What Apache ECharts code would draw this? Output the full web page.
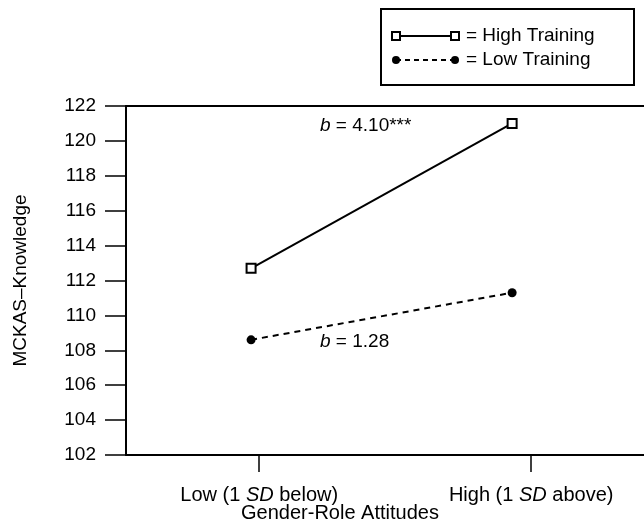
<!DOCTYPE html>
<html>
<head>
<meta charset="utf-8">
<style>
  html, body { margin: 0; padding: 0; background: #fff; }
  #chart { width: 644px; height: 525px; }
</style>
<script src="https://cdn.jsdelivr.net/npm/echarts@6/dist/echarts.min.js"></script>
</head>
<body>
<div id="chart"></div>
<script>
// tick positions on the x axis and their labels (SD part is set in italics)
var xTicks = [0, 1];
var xTickLabels = [['Low (1 ', 'SD', ' below)'], ['High (1 ', 'SD', ' above)']];
// where the points actually sit along x (they are drawn slightly left of the ticks)
var xPoints = [-0.03, 0.93];
var highTraining = [112.7, 121.0];
var lowTraining = [108.6, 111.3];
var yMin = 102, yMax = 122, yStep = 2;

var FONT = '"Liberation Sans", Arial, sans-serif';
var X_MIN = -0.49, X_MAX = 1.415;

function pairs(ys) {
  return ys.map(function (y, i) { return [xPoints[i], y]; });
}

var chart = echarts.init(document.getElementById('chart'));

chart.setOption({
  animation: false,
  backgroundColor: '#fff',
  // plot frame is open on the right, it runs off the picture
  grid: {
    left: 126,
    top: 106,
    right: 0,
    bottom: 70
  },
  xAxis: [
    {
      type: 'value',
      min: X_MIN,
      max: X_MAX,
      splitLine: { show: false },
      axisLine: { onZero: false, lineStyle: { color: '#000', width: 2 } },
      axisTick: {
        customValues: xTicks,
        length: 17,
        lineStyle: { color: '#000', width: 1.5 }
      },
      axisLabel: {
        customValues: xTicks,
        margin: 30,
        formatter: function (v) {
          var parts = xTickLabels[v === 0 ? 0 : 1];
          return '{n|' + parts[0] + '}{i|' + parts[1] + '}{n|' + parts[2] + '}';
        },
        rich: {
          n: { fontFamily: FONT, fontSize: 20, color: '#000' },
          i: { fontFamily: FONT, fontSize: 20, color: '#000', fontStyle: 'italic' }
        }
      }
    },
    {
      // top edge of the frame
      type: 'value',
      position: 'top',
      min: X_MIN,
      max: X_MAX,
      splitLine: { show: false },
      axisLine: { onZero: false, lineStyle: { color: '#000', width: 2 } },
      axisTick: { show: false },
      axisLabel: { show: false }
    }
  ],
  yAxis: {
    type: 'value',
    min: yMin,
    max: yMax,
    interval: yStep,
    name: 'MCKAS\u2013Knowledge',
    nameLocation: 'middle',
    nameGap: 96,
    nameTextStyle: { fontFamily: FONT, fontSize: 19, color: '#000' },
    splitLine: { show: false },
    axisLine: { onZero: false, lineStyle: { color: '#000', width: 2 } },
    axisTick: { length: 21, lineStyle: { color: '#000', width: 1.5 } },
    axisLabel: { fontFamily: FONT, fontSize: 19, color: '#000', margin: 30 }
  },
  series: [
    {
      name: 'High Training',
      type: 'line',
      data: pairs(highTraining),
      symbol: 'rect',
      symbolSize: 9,
      lineStyle: { color: '#000', width: 2 },
      itemStyle: { color: '#fff', borderColor: '#000', borderWidth: 2 }
    },
    {
      name: 'Low Training',
      type: 'line',
      data: pairs(lowTraining),
      symbol: 'circle',
      symbolSize: 9,
      lineStyle: { color: '#000', width: 2, type: [6, 5] },
      itemStyle: { color: '#000', borderColor: '#000', borderWidth: 0 }
    }
  ],
  graphic: [
    // legend box
    {
      type: 'rect',
      shape: { x: 381, y: 9, width: 253, height: 76 },
      style: { fill: '#fff', stroke: '#000', lineWidth: 2 }
    },
    {
      type: 'line',
      shape: { x1: 396, y1: 36, x2: 455, y2: 36 },
      style: { stroke: '#000', lineWidth: 2 }
    },
    {
      type: 'rect',
      shape: { x: 392, y: 32, width: 8, height: 8 },
      style: { fill: '#fff', stroke: '#000', lineWidth: 2 }
    },
    {
      type: 'rect',
      shape: { x: 451, y: 32, width: 8, height: 8 },
      style: { fill: '#fff', stroke: '#000', lineWidth: 2 }
    },
    {
      type: 'text',
      x: 466, y: 36,
      style: { text: '= High Training', font: '19px ' + FONT, fill: '#000', verticalAlign: 'middle' }
    },
    {
      type: 'line',
      shape: { x1: 396, y1: 60, x2: 455, y2: 60 },
      style: { stroke: '#000', lineWidth: 2, lineDash: [5, 4] }
    },
    {
      type: 'circle',
      shape: { cx: 396, cy: 60, r: 4 },
      style: { fill: '#000' }
    },
    {
      type: 'circle',
      shape: { cx: 455, cy: 60, r: 4 },
      style: { fill: '#000' }
    },
    {
      type: 'text',
      x: 466, y: 60,
      style: { text: '= Low Training', font: '19px ' + FONT, fill: '#000', verticalAlign: 'middle' }
    },
    // slope annotations
    {
      type: 'text',
      x: 320, y: 126,
      style: {
        text: '{i|b}{n| = 4.10***}',
        verticalAlign: 'middle',
        rich: {
          n: { fontFamily: FONT, fontSize: 19, color: '#000' },
          i: { fontFamily: FONT, fontSize: 19, color: '#000', fontStyle: 'italic' }
        }
      }
    },
    {
      type: 'text',
      x: 320, y: 342,
      style: {
        text: '{i|b}{n| = 1.28}',
        verticalAlign: 'middle',
        rich: {
          n: { fontFamily: FONT, fontSize: 19, color: '#000' },
          i: { fontFamily: FONT, fontSize: 19, color: '#000', fontStyle: 'italic' }
        }
      }
    },
    // x axis title
    {
      type: 'text',
      x: 340, y: 513,
      style: { text: 'Gender-Role Attitudes', font: '20px ' + FONT, fill: '#000', align: 'center', verticalAlign: 'middle' }
    }
  ]
});
</script>
</body>
</html>
